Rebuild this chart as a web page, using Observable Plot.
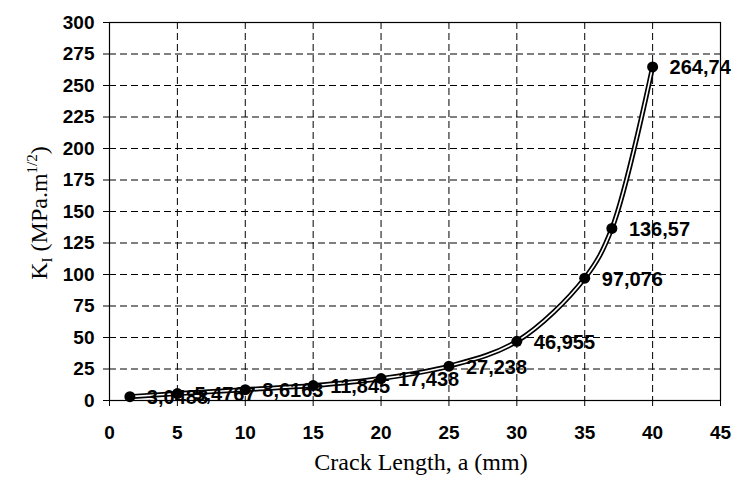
<!DOCTYPE html>
<html>
<head>
<meta charset="utf-8">
<script src="https://cdn.jsdelivr.net/npm/d3@7"></script>
<script src="https://cdn.jsdelivr.net/npm/@observablehq/plot@0.6"></script>
<style>
  html, body { margin: 0; padding: 0; background: #fff; }
  svg { display: block; }
</style>
</head>
<body>
<div id="chart"></div>
<script>
const crackLength = [1.5, 5, 10, 15, 20, 25, 30, 35, 37, 40];
const kValues = [3.0488, 5.4767, 8.6163, 11.845, 17.438, 27.238, 46.955, 97.076, 136.57, 264.74];
const pointLabels = ["3,0488", "5,4767", "8,6163", "11,845", "17,438", "27,238", "46,955", "97,076", "136,57", "264,74"];
const xTicks = [0, 5, 10, 15, 20, 25, 30, 35, 40, 45];
const yTicks = [0, 25, 50, 75, 100, 125, 150, 175, 200, 225, 250, 275, 300];

const data = crackLength.map((a, i) => ({a, k: kValues[i], label: pointLabels[i]}));
const tickFont = "Liberation Sans, Arial, sans-serif";

const plot = Plot.plot({
  width: 735,
  height: 484,
  marginLeft: 109,
  marginRight: 15,
  marginTop: 22,
  marginBottom: 84,
  style: {fontFamily: tickFont, fontSize: "19px", fontWeight: "bold", color: "#000", background: "#fff", overflow: "visible"},
  x: {domain: [0, 45], ticks: xTicks, label: null},
  y: {domain: [0, 300], ticks: yTicks, label: null},
  marks: [
    Plot.gridX(xTicks, {stroke: "#000", strokeOpacity: 1, strokeWidth: 1, strokeDasharray: "7,4"}),
    Plot.gridY(yTicks, {stroke: "#000", strokeOpacity: 1, strokeWidth: 1, strokeDasharray: "7,4"}),
    Plot.frame({stroke: "#000", strokeWidth: 1.2}),
    Plot.axisX(xTicks, {tickSize: 6, tickPadding: 19, fontSize: 19, fontWeight: "bold", label: null, stroke: "#000"}),
    Plot.axisY(yTicks, {tickSize: 6, tickPadding: 9, fontSize: 19, fontWeight: "bold", label: null, stroke: "#000"}),
    Plot.line(data, {x: "a", y: "k", curve: "catmull-rom", stroke: "#000", strokeWidth: 5}),
    Plot.line(data, {x: "a", y: "k", curve: "catmull-rom", stroke: "#fff", strokeWidth: 1.6}),
    Plot.dot(data, {x: "a", y: "k", r: 5.5, fill: "#000", stroke: "none"}),
    Plot.text(data, {x: "a", y: "k", text: "label", textAnchor: "start", dx: 17, dy: 1, fontSize: 20, fontWeight: "bold", fill: "#000"})
  ]
});

const svg = d3.select(plot);
svg.append("text")
  .attr("x", 421).attr("y", 470)
  .attr("text-anchor", "middle")
  .style("font-family", "Liberation Serif, Times New Roman, serif")
  .style("font-size", "24px").style("font-weight", "normal")
  .attr("fill", "#000")
  .text("Crack Length, a (mm)");

const yt = svg.append("text")
  .attr("transform", "translate(47,213) rotate(-90)")
  .attr("text-anchor", "middle")
  .style("font-family", "Liberation Serif, Times New Roman, serif")
  .style("font-size", "24px").style("font-weight", "normal")
  .attr("fill", "#000");
yt.append("tspan").text("K");
yt.append("tspan").attr("dy", 5).style("font-size", "15px").text("I");
yt.append("tspan").attr("dy", -5).text(" (MPa.m");
yt.append("tspan").attr("dy", -10).style("font-size", "15px").text("1/2");
yt.append("tspan").attr("dy", 10).text(")");

document.getElementById("chart").appendChild(plot);
</script>
</body>
</html>
